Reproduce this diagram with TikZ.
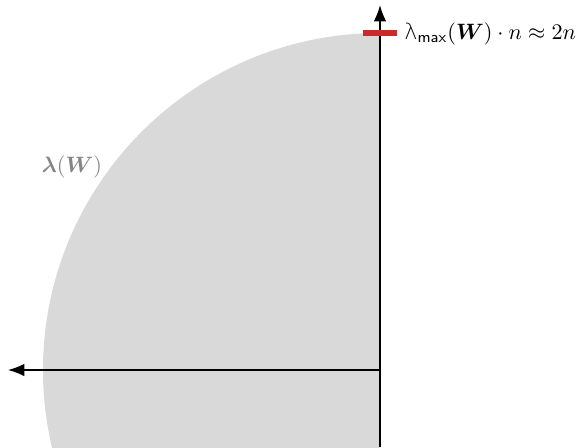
\documentclass[tikz,border=0pt]{standalone}
\usepackage{amsmath,amssymb,bm}
\usepackage{fontspec}
\usepackage{tikz}
\usetikzlibrary{arrows.meta,positioning,calc}
\definecolor{DiscGray}{HTML}{D9D9D9}
\definecolor{LabelGray}{HTML}{858585}
\definecolor{MaxRed}{HTML}{CC2A2A}
\newfontfamily\lamsans{DejaVu Sans ExtraLight}

\begin{document}
\begin{tikzpicture}[
  x=0.45pt,y=0.45pt,
  axis/.style={-{Latex[length=2.6mm,width=2mm]},line width=0.7pt},
  disc/.style={fill=DiscGray,draw=none},
  maxmark/.style={draw=MaxRed,line width=2.7pt},
  lbl/.style={font=\normalsize,inner sep=0pt}
]
\useasboundingbox (-380,-77) rectangle (196,370);
\clip (-380,-77) rectangle (196,370);
% left half of the disc only
\fill[disc] (0,337) arc (90:270:337) -- cycle;
\coordinate (o) at (0,0);
\coordinate (xend) at (-372,0);
\coordinate (ybot) at (0,-77);
\coordinate (ytop) at (0,365);
\coordinate (ml) at (-17,337);
\coordinate (mr) at (17,337);
\draw[axis] (o) -- (xend);
\draw[axis] (ybot) -- (ytop);
\draw[maxmark] (ml) -- (mr);
\node[lbl,anchor=west] (lmax) at (24,336) {$\text{\lamsans λ}_{\textsf{max}}(\bm{W})\cdot n\approx 2n$};
\node[lbl,text=LabelGray] (lw) at (-308,203) {$\bm{\lambda}(\bm{W})$};
\end{tikzpicture}
\end{document}
